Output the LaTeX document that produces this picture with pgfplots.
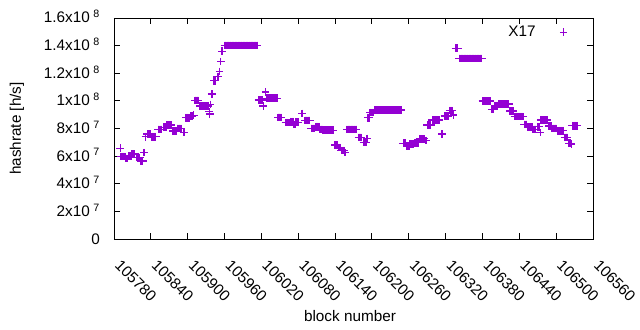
\documentclass[border=0pt]{standalone}
\usepackage{pgfplots}
\pgfplotsset{compat=1.18}
\usepackage{fontspec}
\setmainfont{Liberation Sans}
\definecolor{gpviolet}{HTML}{9400D3}
\newcommand{\sx}[1]{\hspace{3.5bp}\textsuperscript{#1}}
\begin{document}
\begin{tikzpicture}[font=\fontsize{15.3bp}{18bp}\selectfont]
\begin{axis}[
  at={(0,0)}, anchor=south west,
  scale only axis, width=479bp, height=221bp,
  xmin=105780, xmax=106560, ymin=0, ymax=160,
  scaled x ticks=false, scaled y ticks=false,
  axis line style={black, line width=0.9bp},
  every tick/.style={black, line width=0.9bp},
  tick align=inside, xtick pos=both, ytick pos=both,
  major tick length=6bp,
  xtick={105780,105840,105900,105960,106020,106080,106140,106200,106260,106320,106380,106440,106500,106560},
  xticklabels={105780,105840,105900,105960,106020,106080,106140,106200,106260,106320,106380,106440,106500,106560},
  xticklabel style={rotate=-45, anchor=north west, inner sep=0bp, yshift=-8.4bp, xshift=19.2bp},
  ytick={0,20,40,60,80,100,120,140,160},
  yticklabels={0,2x10\sx{7},4x10\sx{7},6x10\sx{7},8x10\sx{7},1x10\sx{8},1.2x10\sx{8},1.4x10\sx{8},1.6x10\sx{8}},
  yticklabel style={anchor=base east, inner sep=0bp, xshift=-14bp, yshift=-5bp},
  xlabel={block number},
  ylabel={hashrate [h/s]},
  xlabel style={at={(axis description cs:0.4927,-0.3484)}, anchor=center},
  ylabel style={at={(axis description cs:-0.2025,0.5)}, anchor=center, rotate=0},
  legend plot pos=right,
  legend style={draw=none, fill=none, at={(axis description cs:0.883,0.937)}, anchor=center, inner sep=0bp, row sep=0bp},
  legend image code/.code={\path[draw=none] (0bp,0bp) -- (30bp,0bp); \draw[#1, line width=0.8bp] plot coordinates {(26bp,0bp)};},
]
\addplot[only marks, mark=+, mark size=3.8bp, color=gpviolet, line width=1.2bp] coordinates {
(105790,65.7)
(105791,59.6)(105792,59.6)(105793,59.6)(105794,59.6)(105795,59.6)(105796,59.6)(105797,59.6)(105798,59.6)
(105799,58.4)(105800,58.4)(105801,58.4)(105802,58.4)
(105804,60.0)(105805,60.0)(105806,60.0)(105807,60.0)(105808,60.0)
(105809,61.5)(105810,61.5)(105811,61.5)(105812,61.5)(105813,61.5)(105814,61.5)
(105816,59.1)(105817,59.1)(105818,59.1)(105819,59.1)(105820,59.1)(105821,59.1)(105822,59.1)
(105824,56.5)(105825,56.5)(105826,56.5)(105827,56.5)
(105829,62.5)
(105831,74.0)
(105834,76.0)(105835,76.0)(105836,76.0)(105837,76.0)(105838,76.0)(105839,76.0)(105840,76.0)
(105842,74.0)(105843,74.0)(105844,74.0)(105845,74.0)(105846,74.0)(105847,74.0)(105848,74.0)
(105852,79.4)(105853,79.4)(105854,79.4)(105855,79.4)(105856,79.4)(105857,79.4)(105858,79.4)
(105860,80.9)(105861,80.9)(105862,80.9)(105863,80.9)(105864,80.9)(105865,80.9)
(105866,82.5)(105867,82.5)(105868,82.5)(105869,82.5)(105870,82.5)(105871,82.5)(105872,82.5)(105873,82.5)
(105876,78.2)(105877,78.2)(105878,78.2)(105879,78.2)(105880,78.2)(105881,78.2)
(105883,80.1)(105884,80.1)(105885,80.1)(105886,80.1)(105887,80.1)(105888,80.1)(105889,80.1)
(105894,77.0)
(105897,87.8)(105898,87.8)(105899,87.8)(105900,87.8)(105901,87.8)(105902,87.8)
(105904,89.0)(105905,89.0)(105906,89.0)(105907,89.0)(105908,89.0)
(105910,89.7)
(105912,100.4)(105913,100.4)(105914,100.4)(105915,100.4)(105916,100.4)(105917,100.4)
(105920,96.3)(105921,96.3)(105922,96.3)(105923,96.3)(105924,96.3)(105925,96.3)(105926,96.3)(105927,96.3)(105928,96.3)(105929,96.3)(105930,96.3)(105931,96.3)(105932,96.3)(105933,96.3)
(105935,92.2)(105936,90.5)(105937,97.5)
(105939,105.0)(105940,105.0)
(105943,114.6)(105944,114.6)(105945,114.6)
(105948,117.5)(105949,117.5)(105950,117.5)
(105952,121.4)
(105954,128.4)
(105956,135.9)
(105960,140.2)(105961,140.2)(105962,140.2)(105963,140.2)(105964,140.2)(105965,140.2)(105966,140.2)(105967,140.2)(105968,140.2)(105969,140.2)
(105970,140.2)(105971,140.2)(105972,140.2)(105973,140.2)(105974,140.2)(105975,140.2)(105976,140.2)(105977,140.2)(105978,140.2)(105979,140.2)
(105980,140.2)(105981,140.2)(105982,140.2)(105983,140.2)(105984,140.2)(105985,140.2)(105986,140.2)(105987,140.2)(105988,140.2)(105989,140.2)
(105990,140.2)(105991,140.2)(105992,140.2)(105993,140.2)(105994,140.2)(105995,140.2)(105996,140.2)(105997,140.2)(105998,140.2)(105999,140.2)
(106000,140.2)(106001,140.2)(106002,140.2)(106003,140.2)(106004,140.2)(106005,140.2)(106006,140.2)(106007,140.2)(106008,140.2)(106009,140.2)
(106010,140.2)(106011,140.2)(106012,140.2)(106013,140.2)(106014,140.2)
(106015,100.6)(106016,100.6)(106017,100.6)(106018,100.6)(106019,100.6)(106020,100.6)(106021,100.6)
(106023,96.3)
(106027,106.4)
(106028,101.9)(106029,101.9)(106030,101.9)(106031,101.9)(106032,101.9)(106033,101.9)(106034,101.9)(106035,101.9)(106036,101.9)(106037,101.9)
(106038,101.9)(106039,101.9)(106040,101.9)(106041,101.9)(106042,101.9)(106043,101.9)(106044,101.9)(106045,101.9)(106046,101.9)
(106047,88.1)(106048,88.1)(106049,88.1)(106050,88.1)(106051,88.1)(106052,88.1)
(106059,84.2)(106060,84.2)(106061,84.2)(106062,84.2)(106063,84.2)(106064,84.2)(106065,84.2)
(106067,84.9)(106068,84.9)(106069,84.9)(106070,84.9)(106071,84.9)(106072,84.9)
(106073,83.0)(106074,83.0)(106075,83.0)
(106076,84.5)(106077,84.5)(106078,84.5)(106079,84.5)(106080,84.5)
(106086,91.0)
(106091,85.9)(106092,85.9)(106093,85.9)(106094,85.9)(106095,85.9)(106096,85.9)(106097,85.9)(106098,85.9)(106099,85.9)
(106101,80.1)(106102,80.1)(106103,80.1)(106104,80.1)(106105,80.1)(106106,80.1)(106107,80.1)
(106109,81.3)(106110,81.3)(106111,81.3)(106112,81.3)(106113,81.3)(106114,81.3)
(106115,79.4)(106116,79.4)(106117,79.4)(106118,79.4)(106119,79.4)
(106120,78.7)(106121,78.7)(106122,78.7)(106123,78.7)(106124,78.7)(106125,78.7)(106126,78.7)(106127,78.7)(106128,78.7)
(106129,78.7)(106130,78.7)(106131,78.7)(106132,78.7)(106133,78.7)(106134,78.7)(106135,78.7)(106136,78.7)(106137,78.7)
(106140,68.0)(106141,68.0)(106142,68.0)(106143,68.0)
(106145,66.1)(106146,66.1)(106147,66.1)(106148,66.1)
(106150,64.0)(106151,64.0)(106152,64.0)(106153,64.0)(106154,64.0)(106155,64.0)
(106156,62.5)
(106159,79.4)(106160,79.4)(106161,79.4)(106162,79.4)(106163,79.4)(106164,79.4)(106165,79.4)(106166,79.4)(106167,79.4)
(106168,79.4)(106169,79.4)(106170,79.4)(106171,79.4)(106172,79.4)(106173,79.4)(106174,79.4)(106175,79.4)
(106178,73.6)(106179,73.6)(106180,73.6)(106181,73.6)(106182,73.6)(106183,73.6)
(106186,70.0)(106187,70.0)(106188,70.0)(106189,70.0)(106190,70.0)(106191,70.0)
(106192,72.9)
(106193,87.8)(106194,87.8)(106195,87.8)(106196,87.8)
(106197,91.5)(106198,91.5)(106199,91.5)(106200,91.5)(106201,91.5)(106202,91.5)
(106205,93.4)(106206,93.4)(106207,93.4)(106208,93.4)(106209,93.4)(106210,93.4)(106211,93.4)(106212,93.4)(106213,93.4)(106214,93.4)
(106215,93.4)(106216,93.4)(106217,93.4)(106218,93.4)(106219,93.4)(106220,93.4)(106221,93.4)(106222,93.4)(106223,93.4)(106224,93.4)
(106225,93.4)(106226,93.4)(106227,93.4)(106228,93.4)(106229,93.4)(106230,93.4)(106231,93.4)(106232,93.4)(106233,93.4)(106234,93.4)
(106235,93.4)(106236,93.4)(106237,93.4)(106238,93.4)(106239,93.4)(106240,93.4)(106241,93.4)(106242,93.4)(106243,93.4)(106244,93.4)
(106245,93.4)(106246,93.4)(106247,93.4)(106248,93.4)
(106251,69.3)(106252,69.3)(106253,69.3)(106254,69.3)(106255,69.3)
(106257,67.3)(106258,67.3)(106259,67.3)(106260,67.3)(106261,67.3)
(106262,68.6)(106263,68.6)(106264,68.6)(106265,68.6)(106266,68.6)(106267,68.6)(106268,68.6)
(106270,69.7)(106271,69.7)(106272,69.7)(106273,69.7)(106274,69.7)(106275,69.7)(106276,69.7)
(106278,72.5)(106279,72.5)(106280,72.5)(106281,72.5)(106282,72.5)(106283,72.5)(106284,72.5)(106285,72.5)
(106288,71.2)
(106290,82.5)(106291,82.5)(106292,82.5)(106293,82.5)(106294,82.5)(106295,82.5)(106296,82.5)
(106298,86.2)(106299,86.2)(106300,86.2)(106301,86.2)(106302,86.2)(106303,86.2)(106304,86.2)(106305,86.2)(106306,86.2)(106307,86.2)(106308,86.2)(106309,86.2)(106310,86.2)
(106314,76.0)
(106318,89.0)(106319,89.0)(106320,89.0)(106321,89.0)(106322,89.0)(106323,89.0)(106324,89.0)
(106326,92.9)(106327,92.9)(106328,92.9)(106329,92.9)(106330,92.9)(106331,92.9)
(106333,89.8)
(106336,138.1)(106337,138.1)(106338,138.1)(106339,138.1)(106340,138.1)
(106342,130.8)(106343,130.8)(106344,130.8)(106345,130.8)(106346,130.8)(106347,130.8)(106348,130.8)(106349,130.8)(106350,130.8)(106351,130.8)
(106352,130.8)(106353,130.8)(106354,130.8)(106355,130.8)(106356,130.8)(106357,130.8)(106358,130.8)(106359,130.8)(106360,130.8)(106361,130.8)
(106362,130.8)(106363,130.8)(106364,130.8)(106365,130.8)(106366,130.8)(106367,130.8)(106368,130.8)(106369,130.8)(106370,130.8)(106371,130.8)
(106372,130.8)(106373,130.8)(106374,130.8)(106375,130.8)(106376,130.8)(106377,130.8)(106378,130.8)(106379,130.8)
(106380,99.9)(106381,99.9)(106382,99.9)(106383,99.9)(106384,99.9)(106385,99.9)(106386,99.9)(106387,99.9)(106388,99.9)(106389,99.9)(106390,99.9)(106391,99.9)(106392,99.9)(106393,99.9)
(106395,93.9)(106396,93.9)(106397,93.9)(106398,93.9)
(106400,96.5)(106401,96.5)(106402,96.5)(106403,96.5)(106404,96.5)(106405,96.5)
(106407,97.7)(106408,97.7)(106409,97.7)(106410,97.7)(106411,97.7)(106412,97.7)(106413,97.7)(106414,97.7)(106415,97.7)
(106416,97.7)(106417,97.7)(106418,97.7)(106419,97.7)(106420,97.7)(106421,97.7)(106422,97.7)(106423,97.7)
(106425,92.7)(106426,92.7)(106427,92.7)(106428,92.7)(106429,92.7)(106430,92.7)
(106432,88.6)(106433,88.6)(106434,88.6)(106435,88.6)(106436,88.6)(106437,88.6)(106438,88.6)(106439,88.6)
(106440,88.6)(106441,88.6)(106442,88.6)(106443,88.6)(106444,88.6)(106445,88.6)(106446,88.6)
(106448,83.0)(106449,83.0)(106450,83.0)(106451,83.0)(106452,83.0)
(106454,80.9)(106455,80.9)(106456,80.9)(106457,80.9)(106458,80.9)(106459,80.9)(106460,80.9)(106461,80.9)
(106462,79.4)(106463,79.4)(106464,79.4)(106465,79.4)(106466,79.4)(106467,79.4)
(106469,81.3)(106470,81.3)(106471,81.3)(106472,81.3)(106473,81.3)
(106474,77.0)
(106475,86.2)(106476,86.2)(106477,86.2)(106478,86.2)(106479,86.2)(106480,86.2)(106481,86.2)(106482,86.2)(106483,86.2)(106484,86.2)(106485,86.2)
(106488,81.8)(106489,81.8)(106490,81.8)(106491,81.8)(106492,81.8)
(106493,80.1)(106494,80.1)(106495,80.1)(106496,80.1)(106497,80.1)(106498,80.1)(106499,80.1)(106500,80.1)
(106502,78.4)(106503,78.4)(106504,78.4)(106505,78.4)(106506,78.4)(106507,78.4)(106508,78.4)(106509,78.4)(106510,78.4)(106511,78.4)
(106514,73.6)(106515,73.6)(106516,73.6)(106517,73.6)(106518,73.6)
(106521,69.3)(106522,69.3)(106523,69.3)(106524,69.3)(106525,68.8)
(106526,82.0)(106527,82.0)(106528,82.0)(106529,82.0)(106530,82.0)(106531,82.0)(106532,82.0)(106533,82.0)(106534,82.0)
};
\addlegendentry{X17}
\end{axis}
\pgfresetboundingbox
\path[use as bounding box] (-114bp,-91bp) rectangle (526bp,239bp);
\end{tikzpicture}
\end{document}
